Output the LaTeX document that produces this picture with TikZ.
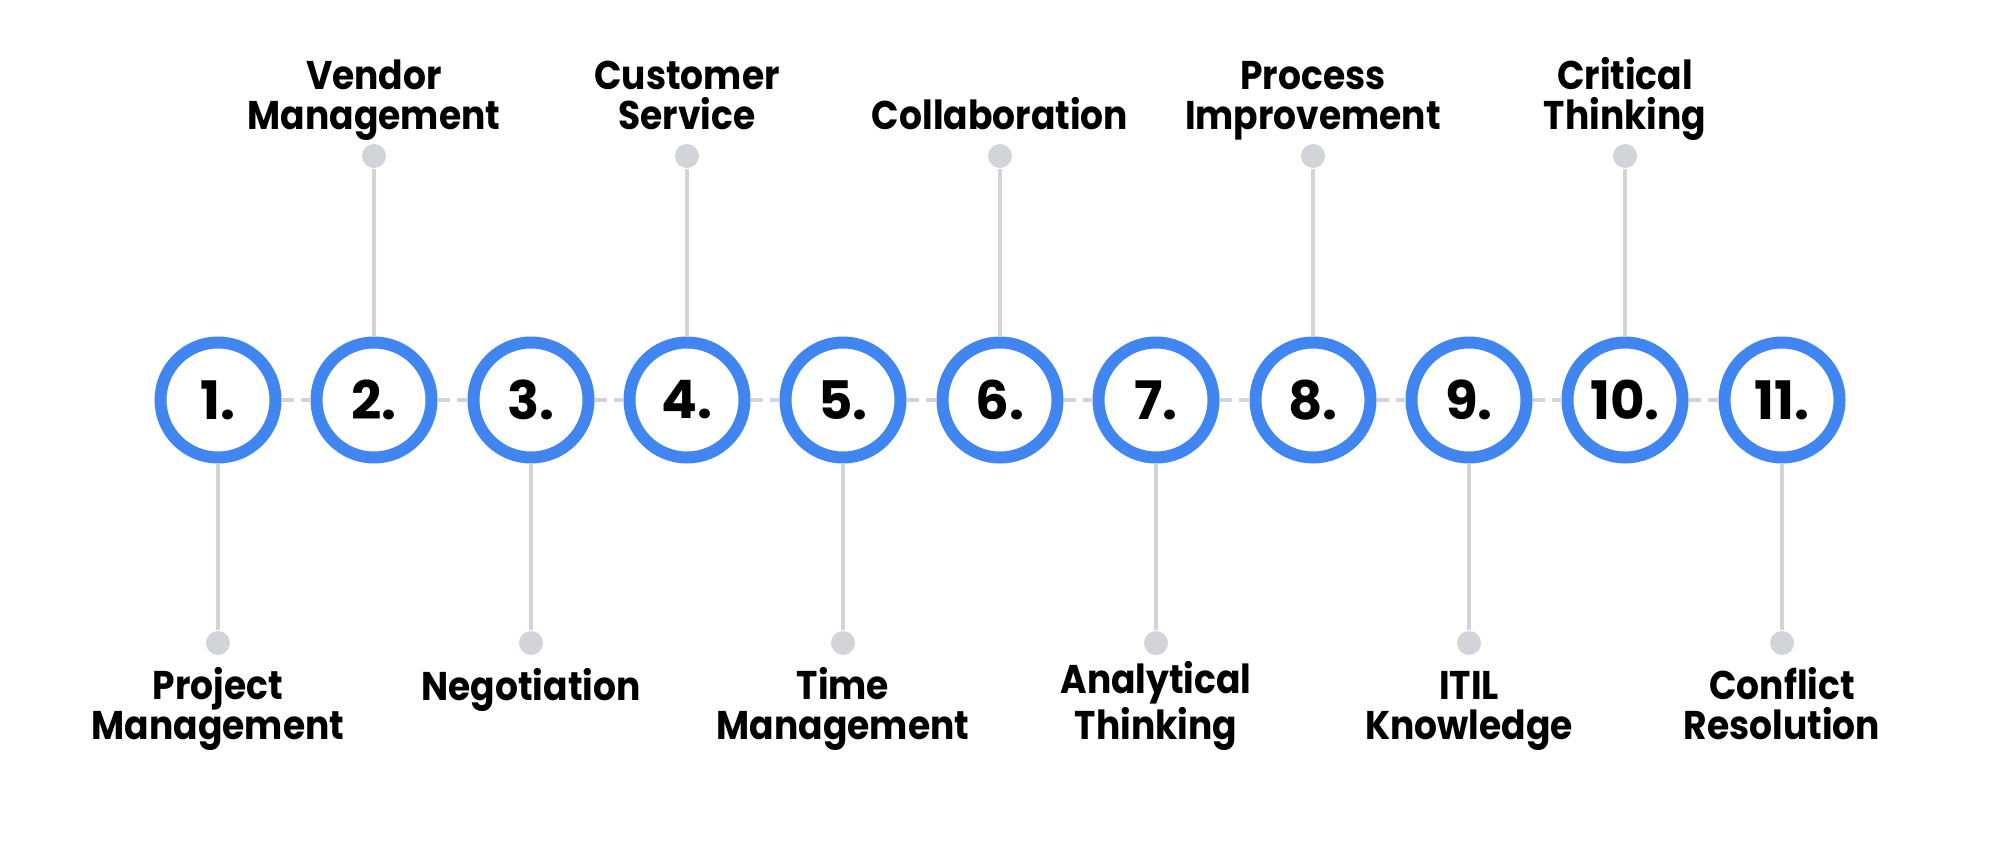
\documentclass[tikz,border=0pt]{standalone}
\usepackage{fontspec}
\setmainfont{Poppins}
\newfontfamily\skillfont{Poppins}[FakeStretch=0.9]
\usetikzlibrary{positioning}

\definecolor{ringblue}{RGB}{64,133,240}
\definecolor{stemgray}{RGB}{210,212,217}

\tikzset{
  ring/.style={circle, draw=ringblue, line width=0.12cm, minimum size=1.15cm,
    inner sep=0pt, fill=white, font=\fontsize{15.1}{15.1}\selectfont\bfseries},
  knob/.style={circle, fill=stemgray, minimum size=0.24cm, inner sep=0pt},
  skill/.style={align=center, inner sep=0pt, anchor=base,
    font=\skillfont\fontsize{11.4}{11.4}\selectfont\bfseries},
  stem/.style={draw=stemgray, line width=0.04cm},
  link/.style={stem, dash pattern=on 0.12cm off 0.07cm},
}

\begin{document}
\begin{tikzpicture}
    \useasboundingbox[fill=white] (0,0) rectangle (20,8.48);

    % rings
    \node[ring] (r1)  at (2.18,4.48)  {1.};
    \node[ring] (r2)  at (3.74,4.48)  {2.};
    \node[ring] (r3)  at (5.31,4.48)  {3.};
    \node[ring] (r4)  at (6.87,4.48)  {4.};
    \node[ring] (r5)  at (8.43,4.48)  {5.};
    \node[ring] (r6)  at (10.00,4.48) {6.};
    \node[ring] (r7)  at (11.56,4.48) {7.};
    \node[ring] (r8)  at (13.13,4.48) {8.};
    \node[ring] (r9)  at (14.69,4.48) {9.};
    \node[ring] (r10) at (16.25,4.48) {10.};
    \node[ring] (r11) at (17.82,4.48) {11.};

    % knobs, odd ones below, even ones above
    \node[knob] (k1)  at (2.18,2.05)  {};
    \node[knob] (k2)  at (3.74,6.92)  {};
    \node[knob] (k3)  at (5.31,2.05)  {};
    \node[knob] (k4)  at (6.87,6.92)  {};
    \node[knob] (k5)  at (8.43,2.05)  {};
    \node[knob] (k6)  at (10.00,6.92) {};
    \node[knob] (k7)  at (11.56,2.05) {};
    \node[knob] (k8)  at (13.13,6.92) {};
    \node[knob] (k9)  at (14.69,2.05) {};
    \node[knob] (k10) at (16.25,6.92) {};
    \node[knob] (k11) at (17.82,2.05) {};

    % labels (base is the last line)
    \node[skill] (s1)  at (2.18,1.08)  {Project\\Management};
    \node[skill] (s2)  at (3.74,7.18)  {Vendor\\Management};
    \node[skill] (s3)  at (5.31,1.48)  {Negotiation};
    \node[skill] (s4)  at (6.87,7.18)  {Customer\\Service};
    \node[skill] (s5)  at (8.43,1.08)  {Time\\Management};
    \node[skill] (s6)  at (10.00,7.18) {Collaboration};
    \node[skill] (s7)  at (11.56,1.08) {Analytical\\Thinking};
    \node[skill] (s8)  at (13.13,7.18) {Process\\Improvement};
    \node[skill] (s9)  at (14.69,1.08) {ITIL\\Knowledge};
    \node[skill] (s10) at (16.25,7.18) {Critical\\Thinking};
    \node[skill] (s11) at (17.82,1.08) {Conflict\\Resolution};

    % connectors
    \draw[link] (r1) -- (r2);
    \draw[link] (r2) -- (r3);
    \draw[link] (r3) -- (r4);
    \draw[link] (r4) -- (r5);
    \draw[link] (r5) -- (r6);
    \draw[link] (r6) -- (r7);
    \draw[link] (r7) -- (r8);
    \draw[link] (r8) -- (r9);
    \draw[link] (r9) -- (r10);
    \draw[link] (r10) -- (r11);
    \draw[stem] (r1) -- (k1);
    \draw[stem] (r2) -- (k2);
    \draw[stem] (r3) -- (k3);
    \draw[stem] (r4) -- (k4);
    \draw[stem] (r5) -- (k5);
    \draw[stem] (r6) -- (k6);
    \draw[stem] (r7) -- (k7);
    \draw[stem] (r8) -- (k8);
    \draw[stem] (r9) -- (k9);
    \draw[stem] (r10) -- (k10);
    \draw[stem] (r11) -- (k11);
\end{tikzpicture}
\end{document}
